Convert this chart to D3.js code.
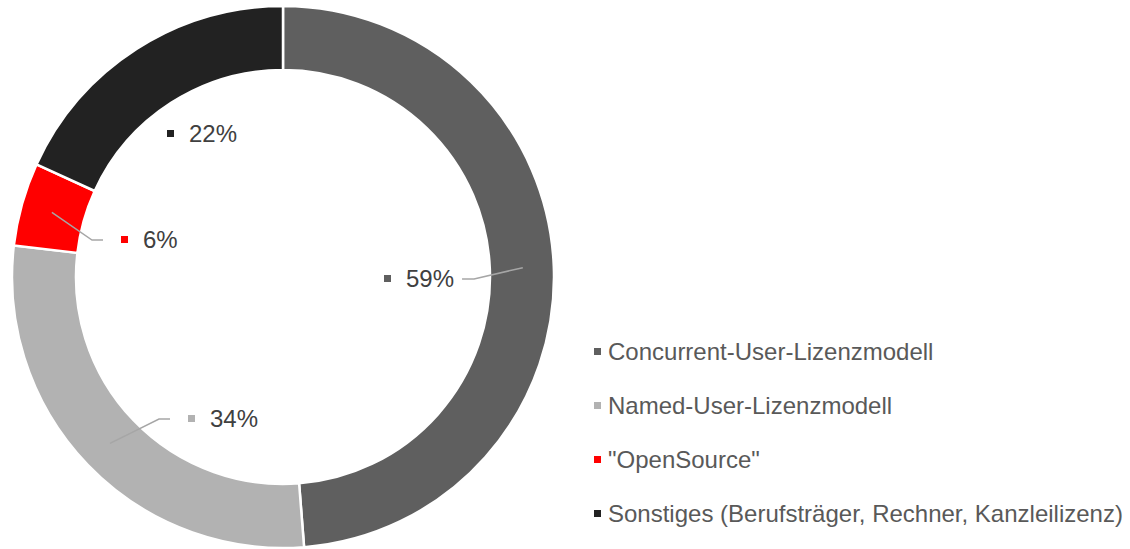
<!DOCTYPE html>
<html>
<head>
<meta charset="utf-8">
<script src="https://cdn.jsdelivr.net/npm/d3@7"></script>
<style>
  body { margin: 0; background: #fff; }
  text { font-family: "Liberation Sans", Arial, sans-serif; }
</style>
</head>
<body>
<svg id="chart" width="1130" height="549"></svg>
<script>
// donut: licence models

var categories = ['Concurrent-User-Lizenzmodell', 'Named-User-Lizenzmodell', '"OpenSource"', 'Sonstiges (Berufsträger, Rechner, Kanzleilizenz)'];
var values = [59, 34, 6, 22];
var labels = ['59%', '34%', '6%', '22%'];
var colors = ['#5f5f5f', '#b2b2b2', '#ff0000', '#222222'];

// label placement (relative to centre), leader side
var labelPos = [
    {dx: 101, dy: 2, leader: 'right'},
    {dx: -95, dy: 142, leader: 'left'},
    {dx: -162, dy: -37, leader: 'left'},
    {dx: -116, dy: -143, leader: null}
];

var svg = d3.select("#chart");
var cx = 283, cy = 277;
var outerR = 271, innerR = 207;
var fontSize = 24;

var g = svg.append("g").attr("transform", "translate(" + cx + "," + cy + ")");

var pie = d3.pie().sort(null).value(function(d) { return d; });
var arcs = pie(values);

var arc = d3.arc().innerRadius(innerR).outerRadius(outerR);
var midArc = d3.arc().innerRadius(240).outerRadius(240);

g.selectAll("path.slice")
    .data(arcs)
    .enter().append("path")
    .attr("class", "slice")
    .attr("d", arc)
    .attr("fill", function(d, i) { return colors[i]; })
    .attr("stroke", "#fff")
    .attr("stroke-width", 2.5);

// data labels
arcs.forEach(function(a, i) {
    var p = labelPos[i];
    var lg = g.append("g").attr("transform", "translate(" + p.dx + "," + p.dy + ")");
    lg.append("rect")
        .attr("x", 0).attr("y", -4)
        .attr("width", 7).attr("height", 7)
        .attr("fill", colors[i]);
    var t = lg.append("text")
        .attr("x", 22).attr("y", 0)
        .attr("dy", "0.35em")
        .attr("font-size", fontSize)
        .attr("fill", "#404040")
        .text(labels[i]);

    if (p.leader) {
        var start = midArc.centroid(a);
        var endX, elbowX;
        if (p.leader == 'right') {
            endX = p.dx + 22 + t.node().getComputedTextLength() + 8;
            elbowX = endX + 12;
        } else {
            endX = p.dx - 18;
            elbowX = endX - 11;
        }
        g.append("path")
            .attr("d", d3.line()([start, [elbowX, p.dy], [endX, p.dy]]))
            .attr("fill", "none")
            .attr("stroke", "#a6a6a6")
            .attr("stroke-width", 1.5);
    }
});

// legend
var legend = svg.append("g").attr("transform", "translate(594,352)");
var rows = legend.selectAll("g.row")
    .data(categories)
    .enter().append("g")
    .attr("class", "row")
    .attr("transform", function(d, i) { return "translate(0," + (i * 54) + ")"; });

rows.append("rect")
    .attr("x", 0).attr("y", -4)
    .attr("width", 7).attr("height", 7)
    .attr("fill", function(d, i) { return colors[i]; });

rows.append("text")
    .attr("x", 14).attr("y", 0)
    .attr("dy", "0.35em")
    .attr("font-size", fontSize)
    .attr("fill", "#595959")
    .text(function(d) { return d; });
</script>
</body>
</html>
